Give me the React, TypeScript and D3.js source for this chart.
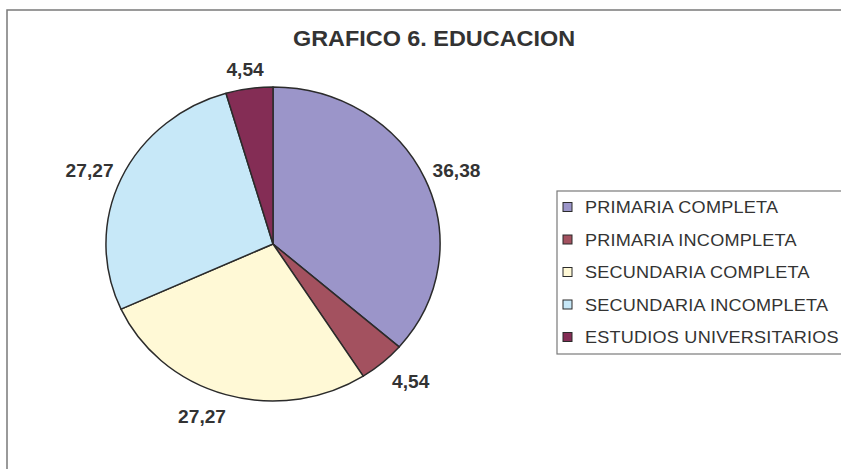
import React, { useEffect, useRef } from 'react';
import * as d3 from 'd3';

const categories = [
  'PRIMARIA COMPLETA',
  'PRIMARIA INCOMPLETA',
  'SECUNDARIA COMPLETA',
  'SECUNDARIA INCOMPLETA',
  'ESTUDIOS UNIVERSITARIOS',
];
const values = [36.38, 4.54, 27.27, 27.27, 4.54];
const labels = ['36,38', '4,54', '27,27', '27,27', '4,54'];
const colors = ['#9B95C9', '#A3515F', '#FFF9D6', '#C7E8F8', '#842D55'];
// Excel nudges a few labels off the plain radial spot
const labelNudge: [number, number][] = [[0, 0], [9, 5], [-14, 4], [0, 0], [0, 0]];

const W = 841;
const H = 469;
const FONT = 'Arial, "Liberation Sans", Helvetica, sans-serif';
const SX = 1.064; // picture is slightly stretched horizontally

const App: React.FC = () => {
  const svgRef = useRef<SVGSVGElement>(null);

  useEffect(() => {
    if (!svgRef.current) return;
    const svg = d3.select(svgRef.current);
    svg.selectAll('*').remove();

    svg.append('rect').attr('width', W).attr('height', H).attr('fill', '#fff');

    // outer chart frame (right/bottom edges fall outside the picture)
    svg
      .append('rect')
      .attr('x', 7)
      .attr('y', 10)
      .attr('width', W + 20)
      .attr('height', H + 20)
      .attr('fill', 'none')
      .attr('stroke', '#7a7a7a')
      .attr('stroke-width', 1.5);

    svg
      .append('text')
      .attr('transform', `translate(434,46) scale(${SX},1)`)
      .attr('text-anchor', 'middle')
      .attr('font-family', FONT)
      .attr('font-weight', 'bold')
      .attr('font-size', '22px')
      .attr('fill', '#333')
      .text('GRAFICO 6. EDUCACION');

    const cx = 273;
    const cy = 244;
    const r = 157;

    const pie = d3.pie<number>().sort(null).value((d) => d);
    const arcs = pie(values);
    const arc = d3.arc<d3.PieArcDatum<number>>().innerRadius(0).outerRadius(r);

    const g = svg
      .append('g')
      .attr('transform', `translate(${cx},${cy}) scale(${SX},1)`);

    g.selectAll('path')
      .data(arcs)
      .enter()
      .append('path')
      .attr('d', arc)
      .attr('fill', (_, i) => colors[i])
      .attr('stroke', '#2b2b2b')
      .attr('stroke-width', 1.5)
      .attr('vector-effect', 'non-scaling-stroke')
      .attr('stroke-linejoin', 'round');

    // data labels just outside the rim
    const halfW = [24, 19, 24, 24, 19];
    const halfH = 9;
    arcs.forEach((a, i) => {
      const mid = (a.startAngle + a.endAngle) / 2;
      const s = Math.sin(mid);
      const c = Math.cos(mid);
      const lx = cx + s * (r + 10) * SX + s * halfW[i] + labelNudge[i][0];
      const ly = cy - c * (r + 10) - c * halfH + labelNudge[i][1];
      svg
        .append('text')
        .attr('transform', `translate(${lx},${ly}) scale(${SX},1)`)
        .attr('dy', '0.35em')
        .attr('text-anchor', 'middle')
        .attr('font-family', FONT)
        .attr('font-weight', 'bold')
        .attr('font-size', '18px')
        .attr('fill', '#333')
        .text(labels[i]);
    });

    // legend
    const lg = svg.append('g');
    lg.append('rect')
      .attr('x', 557)
      .attr('y', 191)
      .attr('width', 300)
      .attr('height', 163)
      .attr('fill', '#fff')
      .attr('stroke', '#7a7a7a')
      .attr('stroke-width', 1.2);

    const rowY = d3.scalePoint<string>().domain(categories).range([207, 337]);
    categories.forEach((cat, i) => {
      const y = rowY(cat) as number;
      lg.append('rect')
        .attr('x', 563)
        .attr('y', y - 4.5)
        .attr('width', 9)
        .attr('height', 9)
        .attr('fill', colors[i])
        .attr('stroke', '#2b2b2b')
        .attr('stroke-width', 1);
      lg.append('text')
        .attr('transform', `translate(585,${y}) scale(${SX},1)`)
        .attr('dy', '0.36em')
        .attr('font-family', FONT)
        .attr('font-size', '17px')
        .attr('letter-spacing', '0.2px')
        .attr('fill', '#333')
        .text(cat);
    });
  }, []);

  return (
    <svg
      ref={svgRef}
      width={W}
      height={H}
      style={{ position: 'absolute', left: 0, top: 0, display: 'block' }}
    />
  );
};

export default App;
